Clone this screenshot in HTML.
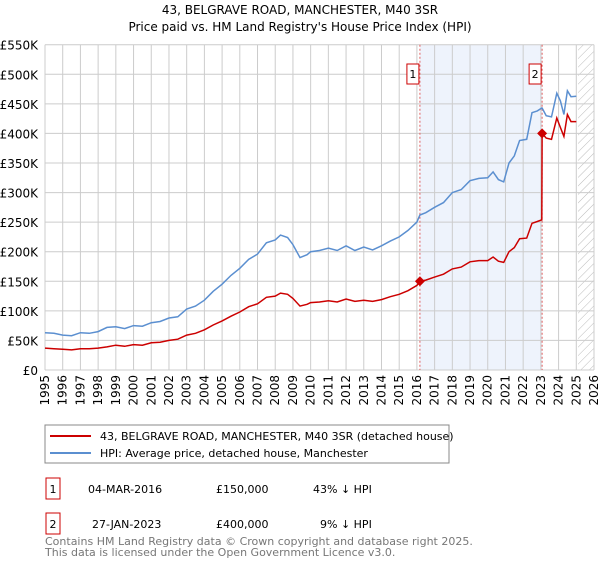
<!DOCTYPE html>
<html><head><meta charset="utf-8"><style>
body{margin:0;background:#fff;font-family:"Liberation Sans","DejaVu Sans",sans-serif;}
svg text{font-family:"DejaVu Sans","Liberation Sans",sans-serif;}
</style></head><body>
<svg id="c" width="600" height="560" xmlns="http://www.w3.org/2000/svg">
<defs><pattern id="hatch" width="6" height="6" patternUnits="userSpaceOnUse" patternTransform="rotate(45)"><line x1="0" y1="0" x2="0" y2="6" stroke="#bbb" stroke-width="1"/></pattern></defs>
<text x="300" y="14" text-anchor="middle" font-size="12" fill="#000">43, BELGRAVE ROAD, MANCHESTER, M40 3SR</text>
<text x="300" y="31" text-anchor="middle" font-size="12" fill="#000">Price paid vs. HM Land Registry's House Price Index (HPI)</text>
<g id="grid"></g><g id="axes"></g><g id="series"></g><g id="marks"></g>
<rect x="45" y="425" width="404" height="38" fill="#fff" stroke="#888"/>
<line x1="50" y1="436" x2="91" y2="436" stroke="#cc0000" stroke-width="2"/>
<text x="100" y="440" font-size="11">43, BELGRAVE ROAD, MANCHESTER, M40 3SR (detached house)</text>
<line x1="50" y1="453" x2="91" y2="453" stroke="#5b8fd0" stroke-width="2"/>
<text x="100" y="457" font-size="11">HPI: Average price, detached house, Manchester</text>
<g>
<rect x="46" y="478" width="14" height="21" fill="#fff" stroke="#cc0000"/><text x="53" y="493" text-anchor="middle" font-size="11">1</text>
<text x="88" y="493" font-size="11">04-MAR-2016</text><text x="216" y="493" font-size="11">£150,000</text><text x="313" y="493" font-size="11">43% ↓ HPI</text></g>
<g>
<rect x="46" y="513" width="14" height="21" fill="#fff" stroke="#cc0000"/><text x="53" y="528" text-anchor="middle" font-size="11">2</text>
<text x="92" y="528" font-size="11">27-JAN-2023</text><text x="216" y="528" font-size="11">£400,000</text><text x="320" y="528" font-size="11">9% ↓ HPI</text></g>
<text x="45" y="545" font-size="11" fill="#777">Contains HM Land Registry data © Crown copyright and database right 2025.</text>
<text x="45" y="556" font-size="11" fill="#777">This data is licensed under the Open Government Licence v3.0.</text>
</svg>
<script>
const dates=[1995,1995.5,1996,1996.5,1997,1997.5,1998,1998.5,1999,1999.5,2000,2000.5,2001,2001.5,2002,2002.5,2003,2003.5,2004,2004.5,2005,2005.5,2006,2006.5,2007,2007.5,2008,2008.3,2008.7,2009,2009.4,2009.8,2010,2010.5,2011,2011.5,2012,2012.5,2013,2013.5,2014,2014.5,2015,2015.5,2016,2016.17,2016.5,2017,2017.5,2018,2018.5,2019,2019.5,2020,2020.3,2020.6,2020.9,2021.2,2021.5,2021.8,2022.2,2022.5,2022.8,2023.05,2023.07,2023.3,2023.6,2023.9,2024.1,2024.3,2024.5,2024.7,2025.0];
const hpiValues=[63,62,59,58,63,62,65,72,73,70,75,74,80,82,88,90,103,108,118,133,145,160,172,187,196,215,220,228,224,212,190,195,200,202,206,202,210,202,208,203,210,218,225,236,250,262,266,275,283,300,305,320,324,325,335,322,318,350,362,388,390,435,438,443,443,430,428,468,455,432,472,462,463];
const propertyValues=[37,36,35,34,36,36,37,39,42,40,43,42,46,47,50,52,59,62,68,76,83,91,98,107,112,123,125,130,128,121,108,111,114,115,117,115,120,116,118,116,119,124,128,134,143,150,152,157,162,171,174,183,185,185,191,184,182,200,207,222,223,248,251,254,400,392,390,426,410,395,432,420,420];
const saleDates=[2016.17,2023.07];
const salePrices=[150,400];
const saleLabels=["1","2"];
const yTicks=[0,50,100,150,200,250,300,350,400,450,500,550];
const yTickLabels=["£0","£50K","£100K","£150K","£200K","£250K","£300K","£350K","£400K","£450K","£500K","£550K"];
const xStart=1995,xEnd=2026,forecastStart=2025.1;
const NS="http://www.w3.org/2000/svg";
const X=y=>45+(y-xStart)*(594-45)/(xEnd-xStart);
const Y=v=>370-v*(370-44.7)/550;
function mk(t,a,p){const e=document.createElementNS(NS,t);for(const k in a)e.setAttribute(k,a[k]);p.appendChild(e);return e;}
const grid=document.getElementById('grid'),axes=document.getElementById('axes'),ser=document.getElementById('series'),marks=document.getElementById('marks');
const sh=mk('rect',{x:X(saleDates[0]),y:Y(550),width:X(saleDates[1])-X(saleDates[0]),height:Y(0)-Y(550),fill:'#eef3fc'},grid);


const hz=mk('rect',{x:X(forecastStart),y:Y(550),width:X(xEnd)-X(forecastStart),height:Y(0)-Y(550),fill:'url(#hatch)'},grid);


for(let yr=xStart;yr<=xEnd;yr++){
 const l=mk('line',{x1:X(yr),x2:X(yr),y1:Y(550),y2:Y(0),stroke:'#ccc'},grid);
 
 
 const t=mk('text',{x:0,y:0,'font-size':'12','text-anchor':'end',transform:`translate(${X(yr)+4},${Y(0)+5}) rotate(-90)`},axes);
 t.textContent=yr;
 
 
}
yTicks.forEach((v,i)=>{
 const l=mk('line',{x1:X(xStart),x2:X(xEnd),y1:Y(v),y2:Y(v),stroke:'#ccc'},grid);
 
 
 const t=mk('text',{x:38,y:Y(v)+5,'font-size':'12','text-anchor':'end'},axes);
 t.textContent=yTickLabels[i];
 
 
});
saleDates.forEach((d,i)=>{
 const l=mk('line',{x1:X(d),x2:X(d),y1:Y(550),y2:Y(0),stroke:'#e06060','stroke-dasharray':'2,2'},grid);
 
 
});
function path(vals){return vals.map((v,i)=>(i?'L':'M')+X(dates[i]).toFixed(1)+','+Y(v).toFixed(1)).join('');}
const h=mk('path',{d:path(hpiValues),fill:'none',stroke:'#5b8fd0','stroke-width':1.5},ser);


const p=mk('path',{d:path(propertyValues),fill:'none',stroke:'#cc0000','stroke-width':1.5},ser);


saleDates.forEach((d,i)=>{
 const cx=X(d),cy=Y(salePrices[i]);
 const m=mk('path',{d:`M${cx-5},${cy}L${cx},${cy-5}L${cx+5},${cy}L${cx},${cy+5}Z`,fill:'#cc0000'},marks);
 
 
 const b=mk('rect',{x:cx-13,y:64,width:12,height:20,fill:'#fff',stroke:'#cc0000'},marks);
 
 
 const t=mk('text',{x:cx-7,y:78,'font-size':'11','text-anchor':'middle'},marks);
 t.textContent=saleLabels[i];
 
 
});
</script>
</body></html>
